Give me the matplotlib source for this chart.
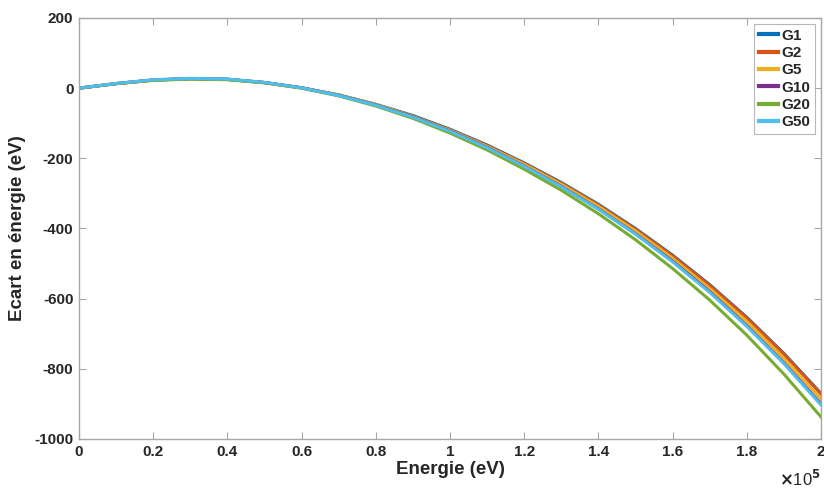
import matplotlib
matplotlib.use("Agg")
import matplotlib.pyplot as plt
from matplotlib.ticker import FuncFormatter, MultipleLocator

plt.rcParams['font.family'] = ['Liberation Sans', 'DejaVu Sans']
plt.rcParams['font.weight'] = 'bold'
plt.rcParams['axes.unicode_minus'] = False

energy = [0, 10000, 20000, 30000, 40000, 50000, 60000, 70000, 80000, 90000, 100000,
          110000, 120000, 130000, 140000, 150000, 160000, 170000, 180000, 190000, 200000]

g1 = [0, 13, 23, 27, 25, 16, 1, -19, -46, -78, -117, -162, -213, -269, -331, -400, -476, -560, -653, -756, -870]
g2 = [0, 13, 23, 27, 25, 16, 1, -20, -47, -80, -119, -164, -215, -271, -333, -402, -478, -562, -655, -758, -872]
g5 = [0, 13, 23, 27, 25, 16, 1, -20, -47, -81, -120, -166, -217, -274, -337, -407, -485, -571, -665, -770, -886]
g10 = [0, 13, 23.5, 27.5, 25.5, 16, 1, -21, -48.5, -82.5, -122, -169, -222, -280, -344, -415, -493, -580, -677, -783, -900]
g20 = [0, 13, 22, 26, 24, 15, 0, -22, -51, -86, -128, -176, -231, -291, -358, -432, -514, -604, -704, -815, -937]
g50 = [0, 13.5, 24, 28, 26, 16.5, 1, -21, -49, -83, -123, -170, -223, -281, -345, -416, -495, -582, -679, -785, -903]

series = [("G1", g1, "#0072BD"), ("G2", g2, "#D95319"), ("G5", g5, "#EDB120"),
          ("G10", g10, "#7E2F8E"), ("G20", g20, "#77AC30"), ("G50", g50, "#4DBEEE")]

fig = plt.figure(figsize=(8.24, 4.88), dpi=100)
ax = fig.add_axes([79/824, (488-439)/488, (821-79)/824, (439-18)/488])

for name, vals, col in series:
    ax.plot(energy, vals, color=col, lw=2.2, label=name, solid_joinstyle='round')

ax.set_xlim(0, 200000)
ax.set_ylim(-1000, 200)
ax.xaxis.set_major_locator(MultipleLocator(20000))
ax.yaxis.set_major_locator(MultipleLocator(200))
ax.xaxis.set_major_formatter(FuncFormatter(lambda v, p: f"{v/1e5:g}"))
ax.yaxis.set_major_formatter(FuncFormatter(lambda v, p: f"{v:g}"))

axcol = "#a6a6a6"
for s in ax.spines.values():
    s.set_color(axcol)
    s.set_linewidth(1.0)
ax.tick_params(direction='in', length=5, width=0.8, color=axcol, top=True, right=True,
               labelsize=11, labelcolor='#262626', pad=4)
for lab in ax.get_xticklabels() + ax.get_yticklabels():
    lab.set_fontweight('bold')

ax.set_xlabel("Energie (eV)", fontsize=13.5, fontweight='bold', color='#262626', labelpad=2)
ax.set_ylabel("Ecart en énergie (eV)", fontsize=13.5, fontweight='bold', color='#262626', labelpad=6)

ax.text(1.0, -0.072, r"$\times$10$^5$", transform=ax.transAxes, ha='right', va='top',
        fontsize=12, color='#262626', fontweight='normal')

leg = ax.legend(loc='upper right', fontsize=11, frameon=True, fancybox=False,
                handlelength=1.3, handletextpad=0.2, labelspacing=0.22,
                borderpad=0.3, borderaxespad=0.4)
leg.get_frame().set_edgecolor(axcol)
leg.get_frame().set_linewidth(0.8)
for line in leg.get_lines():
    line.set_linewidth(3)
for t in leg.get_texts():
    t.set_fontweight('bold')
    t.set_color('#262626')

fig.savefig("out.png", dpi=100)
